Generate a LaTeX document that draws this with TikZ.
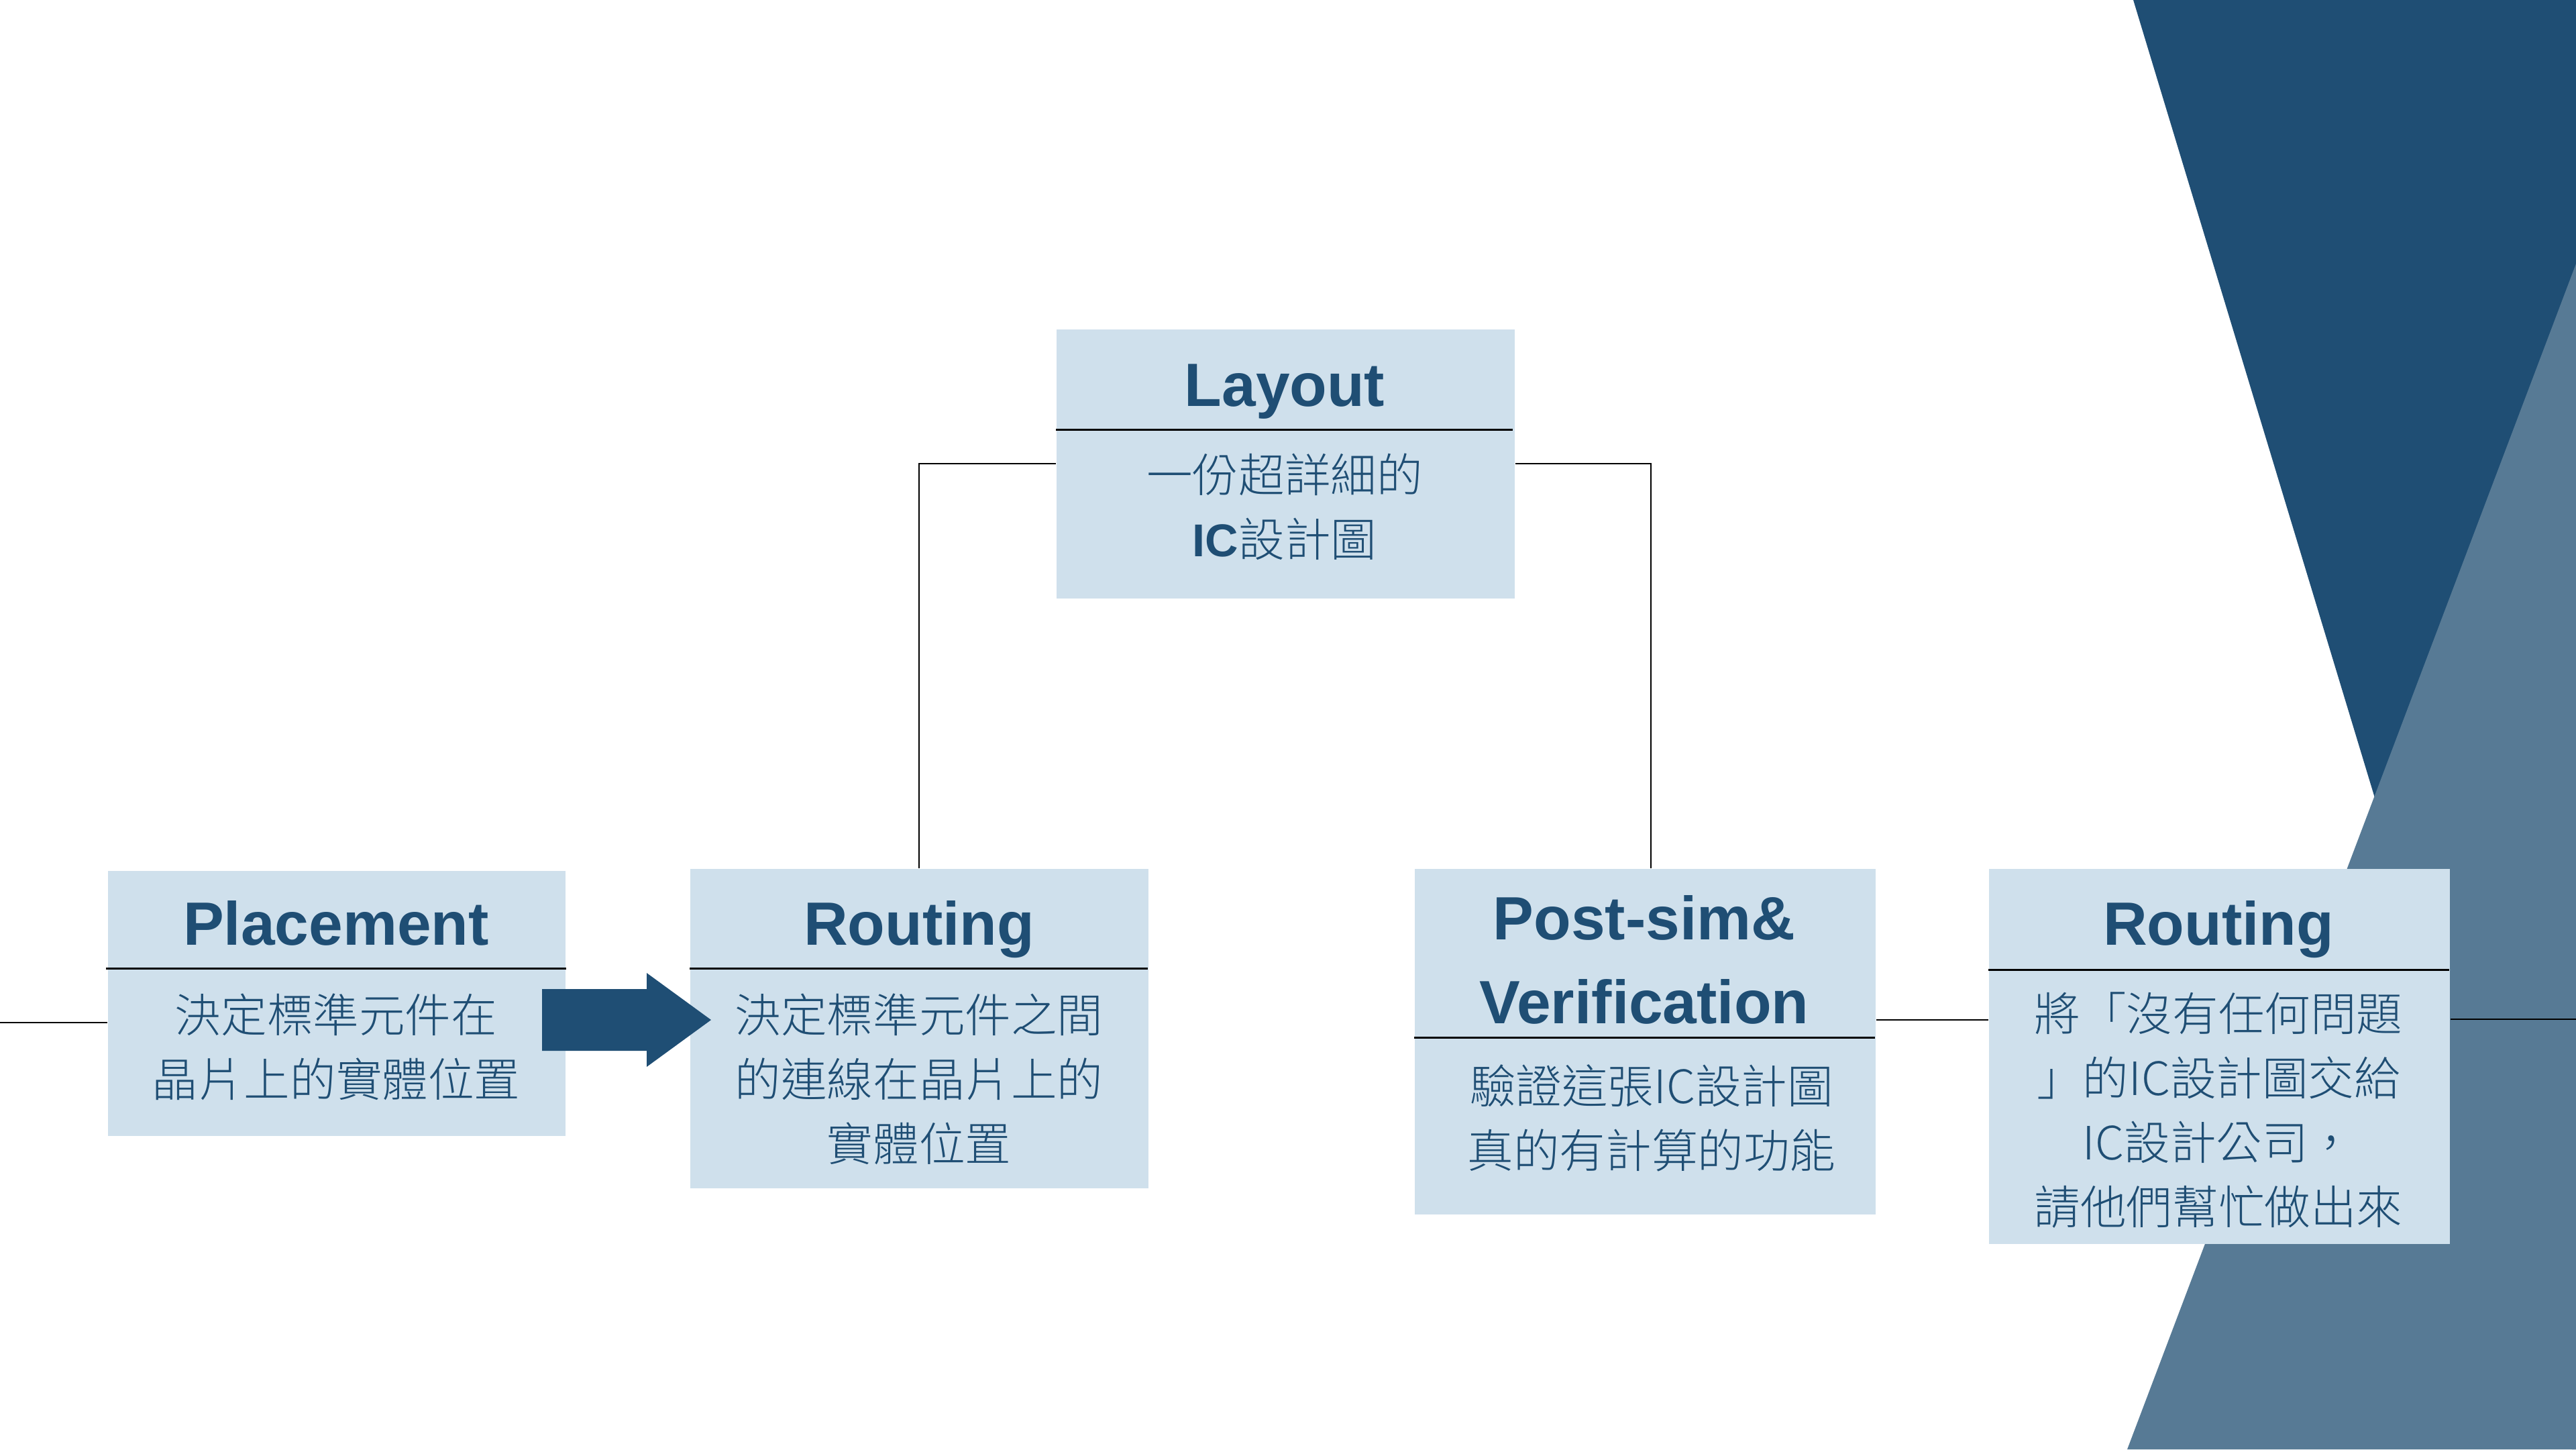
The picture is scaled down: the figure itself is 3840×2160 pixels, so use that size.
\documentclass[tikz,border=0pt]{standalone}
\usepackage{fontspec}
\setmainfont{Liberation Sans}
\newfontfamily\cjk{Noto Sans CJK TC Light}
\usetikzlibrary{calc}
\definecolor{navy}{HTML}{1F4E74}
\definecolor{slate}{HTML}{577A95}
\definecolor{boxfill}{HTML}{CFE0EC}

\begin{document}
\begin{tikzpicture}[x=0.01cm,y=-0.01cm,
  card/.style={fill=boxfill, draw=none, inner sep=0pt, anchor=north west},
  heading/.style={text=navy, inner sep=0pt, anchor=base,
    font=\fontsize{25.9pt}{35.6pt}\selectfont\bfseries},
  body/.style={text=navy, inner sep=0pt, anchor=center, align=center,
    font=\cjk\fontsize{19.5pt}{27.3pt}\selectfont},
  rule/.style={draw=black, line width=0.85pt},
  link/.style={draw=black, line width=0.6pt}]

\useasboundingbox (0,0) rectangle (3840,2160);
\fill[white] (0,0) rectangle (3840,2160);

% corner decoration
\fill[navy] (3180,0) -- (3840,0) -- (3840,2160) -- (3834,2160) -- cycle;
\fill[slate] (3840,393) -- (3840,2160) -- (3171,2160) -- cycle;

% cards
\node[card, minimum width=6.83cm, minimum height=4.01cm] (layout)    at (1574,490)  {};
\node[card, minimum width=6.82cm, minimum height=3.95cm] (placement) at (160,1297)  {};
\node[card, minimum width=6.83cm, minimum height=4.76cm] (routing)   at (1028,1294) {};
\node[card, minimum width=6.87cm, minimum height=5.15cm] (postsim)   at (2108,1294) {};
\node[card, minimum width=6.87cm, minimum height=5.59cm] (handoff)   at (2964,1294) {};

% header dividers
\draw[rule] ($(layout.north west)+(0,150)$)    -- ($(layout.north east)+(-4,150)$);
\draw[rule] ($(placement.north west)+(-2,146)$) -- ($(placement.north east)+(0,146)$);
\draw[rule] ($(routing.north west)+(0,149)$)   -- ($(routing.north east)+(-2,149)$);
\draw[rule] ($(postsim.north west)+(0,252)$)   -- ($(postsim.north east)+(-2,252)$);
\draw[rule] ($(handoff.north west)+(0,151)$)   -- ($(handoff.north east)+(-2,151)$);

% connectors
\coordinate (leftend)  at (0,1524);
\coordinate (rightend) at (3840,1519);
\coordinate (midline)  at (0,1520);
\draw[link] (leftend) -- (leftend -| placement.west);
\draw[link] (layout.west) -| (routing.north);
\draw[link] (layout.east) -| ($(postsim.north)+(9,0)$);
\draw[link] (postsim.east |- midline) -- (handoff.west |- midline);
\draw[link] (handoff.east |- rightend) -- (rightend);

% block arrow from placement to routing
\fill[navy] (808,1474) -- (964,1474) -- (964,1450) -- (1060,1520)
  -- (964,1590) -- (964,1566) -- (808,1566) -- cycle;

% headings
\node[heading] (layoutT)    at (1915,605)  {Layout};
\node[heading] (placementT) at (501,1408)  {Placement};
\node[heading] (routingT)   at (1370,1408) {Routing};
\node[heading] (postsimT)   at (2451,1400) {Post-sim\&};
\node[heading] (verifyT)    at (2451,1525) {Verification};
\node[heading] (handoffT)   at (3307,1408) {Routing};

% descriptions
\node[body] (layoutB)    at (1915,755)  {一份超詳細的\\{\rmfamily\bfseries IC}設計圖};
\node[body] (placementB) at (501,1560)  {決定標準元件在\\晶片上的實體位置};
\node[body] (routingB)   at (1370,1608) {決定標準元件之間\\的連線在晶片上的\\實體位置};
\node[body] (postsimB)   at (2462,1666) {驗證這張IC設計圖\\真的有計算的功能};
\node[body] (handoffB)   at (3307,1655) {將「沒有任何問題\\」的IC設計圖交給\\IC設計公司，\\請他們幫忙做出來};
\end{tikzpicture}
\end{document}
